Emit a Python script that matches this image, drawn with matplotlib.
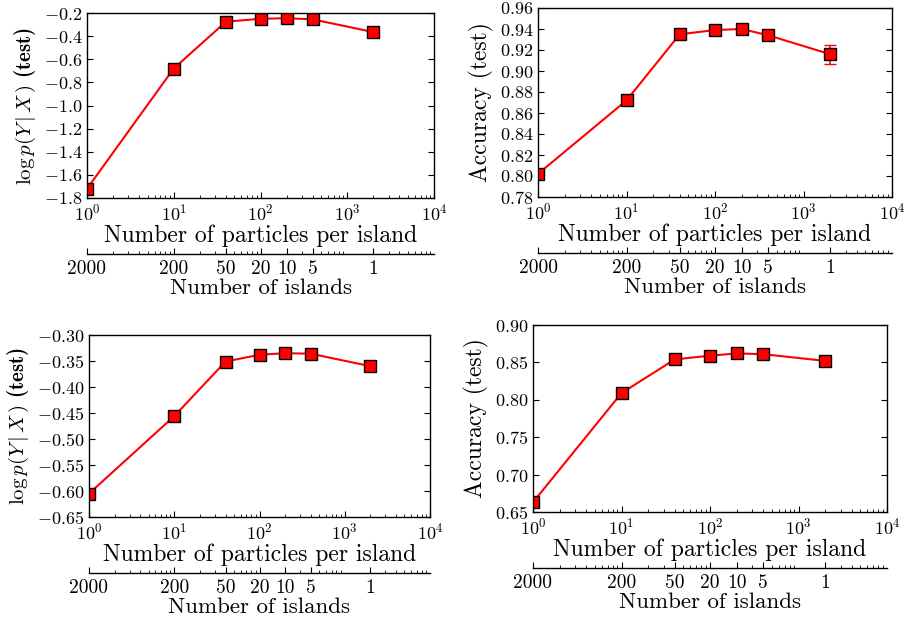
import numpy as np
import matplotlib
matplotlib.use('Agg')
import matplotlib.pyplot as plt

'''Datos leidos de la figura'''
particulas = [1, 10, 40, 100, 200, 400, 2000]        # particulas por isla
islas = ['2000', '200', '50', '20', '10', '5', '1']  # numero de islas

logp_a = [-1.72, -0.68, -0.275, -0.25, -0.245, -0.255, -0.365]
acc_a = [0.802, 0.872, 0.935, 0.939, 0.940, 0.934, 0.916]
acc_a_err = [0.001, 0.001, 0.001, 0.001, 0.002, 0.003, 0.009]
logp_b = [-0.605, -0.456, -0.351, -0.338, -0.335, -0.336, -0.360]
acc_b = [0.663, 0.809, 0.854, 0.859, 0.862, 0.861, 0.852]

plt.rcParams['font.family'] = 'serif'
plt.rcParams['font.serif'] = ['cmr10']
plt.rcParams['mathtext.fontset'] = 'cm'
plt.rcParams['axes.formatter.use_mathtext'] = True
plt.rcParams['axes.unicode_minus'] = True
plt.rcParams['xtick.direction'] = 'in'
plt.rcParams['ytick.direction'] = 'in'
plt.rcParams['xtick.top'] = True
plt.rcParams['ytick.right'] = True
plt.rcParams['xtick.major.size'] = 4
plt.rcParams['xtick.minor.size'] = 2
plt.rcParams['ytick.major.size'] = 4
plt.rcParams['ytick.minor.size'] = 2
plt.rcParams['axes.linewidth'] = 1.0

fig = plt.figure(figsize=(9.1, 6.2), dpi=100)

# posiciones [izq, abajo, ancho, alto] en fraccion de figura
cajas = [
    [87/910, 1-198/620, 347/910, 185/620],
    [538/910, 1-197/620, 354/910, 189/620],
    [89/910, 1-517/620, 341/910, 182/620],
    [533/910, 1-512/620, 354/910, 187/620],
]
datos = [logp_a, acc_a, logp_b, acc_b]
errores = [None, acc_a_err, None, None]
etiquetas = [r'$\log p(Y\,|\,X\,)$ (test)', 'Accuracy (test)',
             r'$\log p(Y\,|\,X\,)$ (test)', 'Accuracy (test)']
fuente_etiqueta = ['cmb10', 'cmr10', 'cmb10', 'cmr10']
tam_etiqueta = [15, 17, 15, 17]
limites = [(-1.8, -0.2), (0.78, 0.96), (-0.65, -0.30), (0.65, 0.90)]
pasos = [0.2, 0.02, 0.05, 0.05]
formatos = ['%.1f', '%.2f', '%.2f', '%.2f']

for i in range(4):
    ax = fig.add_axes(cajas[i])
    if errores[i] is None:
        ax.plot(particulas, datos[i], '-', color='red', lw=1.5,
                marker='s', ms=8, mfc='red', mec='black', mew=1.0)
    else:
        ax.errorbar(particulas, datos[i], yerr=errores[i], fmt='-', color='red', lw=1.5,
                    marker='s', ms=8, mfc='red', mec='black', mew=1.0,
                    ecolor='red', elinewidth=1.2, capsize=4, capthick=1.2)
    ax.set_xscale('log')
    ax.set_xlim(1, 1e4)
    ax.set_ylim(limites[i])
    ax.set_yticks(np.arange(limites[i][0], limites[i][1] + pasos[i]/2, pasos[i]))
    ax.yaxis.set_major_formatter(matplotlib.ticker.FormatStrFormatter(
        '$\\mathdefault{' + formatos[i] + '}$'))
    ax.tick_params(labelsize=13)
    ax.set_ylabel(etiquetas[i], fontsize=tam_etiqueta[i], family=fuente_etiqueta[i])
    ax.set_xlabel('Number of particles per island', fontsize=17, labelpad=1)

    # eje secundario con el numero de islas
    ax2 = ax.twiny()
    ax2.set_xscale('log')
    ax2.set_xlim(ax.get_xlim())
    ax2.xaxis.set_ticks_position('bottom')
    ax2.xaxis.set_label_position('bottom')
    ax2.spines['bottom'].set_position(('outward', 40))
    for s in ['top', 'left', 'right']:
        ax2.spines[s].set_visible(False)
    ax2.set_xticks(particulas)
    ax2.set_xticklabels(islas)
    ax2.tick_params(axis='x', which='both', direction='in', labelsize=14, pad=5)
    ax2.set_xlabel('Number of islands', fontsize=16.5, labelpad=0)

fig.savefig('out.png', dpi=100)
